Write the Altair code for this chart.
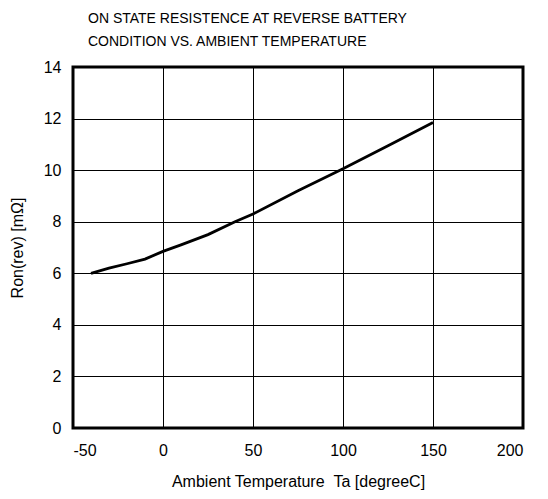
import altair as alt
import pandas as pd

temps = [-40, -30, -20, -10, 0, 10, 25, 40, 50, 75, 100, 125, 150]
ron = [6.0, 6.2, 6.37, 6.55, 6.85, 7.1, 7.5, 8.0, 8.3, 9.2, 10.05, 10.95, 11.85]

x_ticks = [-50, 0, 50, 100, 150, 200]
y_ticks = [0, 2, 4, 6, 8, 10, 12, 14]

df = pd.DataFrame({"t": temps, "r": ron})

font = "Liberation Sans"

chart = alt.Chart(df).mark_line(color="black", strokeWidth=2.8).encode(
    x=alt.X("t:Q", scale=alt.Scale(domain=[-50, 200], nice=False),
            axis=alt.Axis(values=x_ticks, title="Ambient Temperature\u00a0\u00a0Ta [degreeC]",
                          labelExpr="'' + datum.value",
                          titlePadding=15, labelPadding=14)),
    y=alt.Y("r:Q", scale=alt.Scale(domain=[0, 14], nice=False),
            axis=alt.Axis(values=y_ticks, title="Ron(rev) [mΩ]",
                          titlePadding=18, labelPadding=12)),
).properties(
    width=450,
    height=361,
    title=alt.TitleParams(
        text=["ON STATE RESISTENCE AT REVERSE BATTERY",
              "CONDITION VS. AMBIENT TEMPERATURE"],
        anchor="start", frame="group", dx=15, offset=10,
        font=font, fontSize=14, fontWeight="normal", color="black",
        lineHeight=23,
    ),
    autosize=alt.AutoSizeParams(type="none"),
    padding={"left": 65, "top": 59, "right": 17, "bottom": 63},
).configure_view(
    stroke="black", strokeWidth=3
).configure_axis(
    domain=False, ticks=False, grid=True, gridColor="black", gridWidth=1,
    gridOpacity=1,
    labelFont=font, labelFontSize=16, labelColor="black",
    titleFont=font, titleFontSize=16, titleFontWeight="normal", titleColor="black",
)

chart.save("out.html", embed_options={"renderer": "svg", "actions": False})
